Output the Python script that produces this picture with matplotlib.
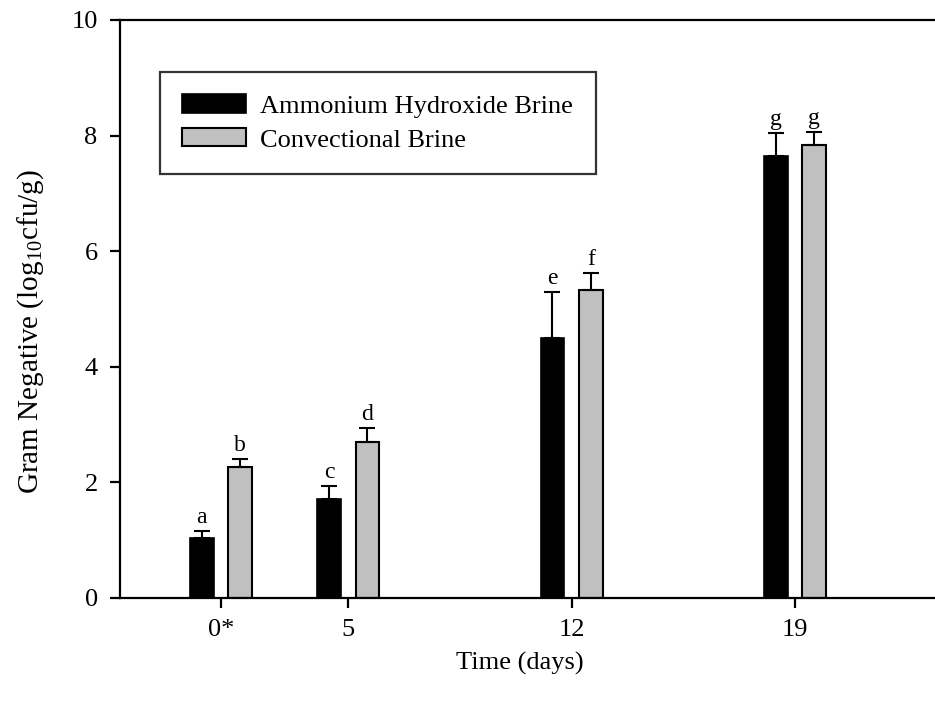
import numpy as np
import matplotlib
matplotlib.use("Agg")
import matplotlib.pyplot as plt

# sampling days (first point plotted at 1, labelled 0*)
day_pos = [1, 5, 12, 19]
day_labels = ["0*", "5", "12", "19"]

ammonium = [1.04, 1.72, 4.49, 7.65]
ammonium_err = [0.12, 0.22, 0.80, 0.39]
ammonium_grp = ["a", "c", "e", "g"]

conventional = [2.27, 2.70, 5.33, 7.83]
conventional_err = [0.13, 0.24, 0.29, 0.23]
conventional_grp = ["b", "d", "f", "g"]

plt.rcParams['font.family'] = ['Liberation Serif', 'DejaVu Serif']
plt.rcParams['mathtext.fontset'] = 'custom'
plt.rcParams['mathtext.rm'] = 'Liberation Serif'

fig = plt.figure(figsize=(9.35, 7.05), dpi=100)
ax = fig.add_axes([0.1283, 0.1518, 0.8754, 0.8199])

x = np.array(day_pos, dtype=float)
off = 0.6
w = 0.75

ax.bar(x - off, ammonium, w, color="black", edgecolor="black", linewidth=1.2,
       label="Ammonium Hydroxide Brine")
ax.bar(x + off, conventional, w, color="#c0c0c0", edgecolor="black", linewidth=1.5,
       label="Convectional Brine")

# one-sided error bars
ax.errorbar(x - off, ammonium, yerr=[np.zeros(4), ammonium_err], fmt="none",
            ecolor="black", elinewidth=1.5, capsize=6, capthick=1.5)
ax.errorbar(x + off, conventional, yerr=[np.zeros(4), conventional_err], fmt="none",
            ecolor="black", elinewidth=1.5, capsize=6, capthick=1.5)

for xi, v, e, g in zip(x - off, ammonium, ammonium_err, ammonium_grp):
    ax.text(xi, v + e + 0.05, g, ha="center", va="bottom", fontsize=17)
for xi, v, e, g in zip(x + off, conventional, conventional_err, conventional_grp):
    ax.text(xi, v + e + 0.05, g, ha="center", va="bottom", fontsize=17)

ax.set_xlim(-2.16, 23.5)
ax.set_ylim(0, 10)
ax.set_xticks(day_pos)
ax.set_xticklabels(day_labels)
ax.set_yticks([0, 2, 4, 6, 8, 10])

for s in ["left", "bottom", "top"]:
    ax.spines[s].set_linewidth(1.6)
ax.spines["right"].set_visible(False)
ax.tick_params(axis="both", direction="out", length=7, width=1.6, labelsize=19)
ax.tick_params(axis="x", pad=8)
ax.tick_params(axis="y", pad=9)

ax.set_xlabel("Time (days)", fontsize=19)
ax.set_ylabel(r"Gram Negative (log$_{10}$cfu/g)", fontsize=21)
ax.xaxis.set_label_coords(0.489, -0.094)
ax.yaxis.set_label_coords(-0.09, 0.46)

leg = ax.legend(loc="upper left", bbox_to_anchor=(0.0489, 0.910), fontsize=19,
                frameon=True, fancybox=False, edgecolor="black",
                handlelength=2.4, handleheight=0.68, handletextpad=0.55,
                borderpad=0.85, labelspacing=0.4, borderaxespad=0)
leg.get_frame().set_linewidth(1.6)

fig.savefig("out.png", dpi=100)
